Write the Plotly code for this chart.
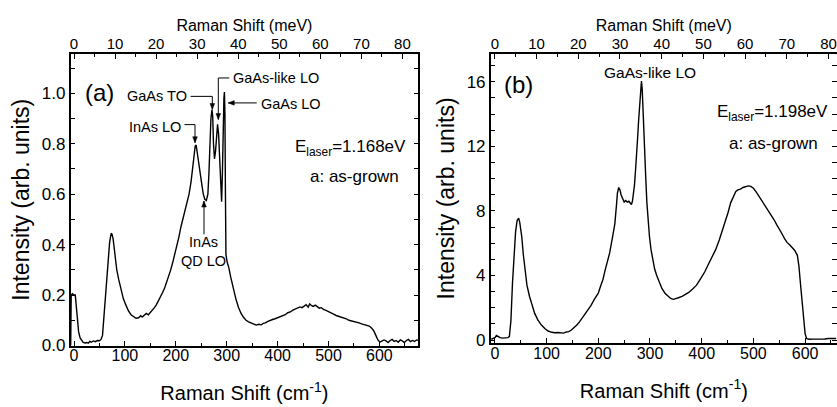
import plotly.graph_objects as go

# ---------------- data: panel (a), E_laser = 1.168 eV ----------------
shift_a = [-6.5, -5.5, -3, 0, 2.5, 5, 7, 9, 12, 15, 18, 22, 25, 28, 31, 34, 38, 42, 46, 50,
           53, 56, 58, 61, 64, 67, 70, 73, 75, 77, 80, 84, 88, 92, 97, 102, 107, 112, 117, 122,
           127, 131, 134, 138, 142, 146, 150, 154, 158, 162, 166, 170, 174, 178, 182, 186, 190,
           194, 198, 202, 206, 210, 214, 218, 222, 226, 230, 233, 236, 238, 240, 242, 245, 248,
           251, 254, 257, 260, 263, 265, 267, 269, 271, 272.5, 274, 276, 278, 280, 282, 284, 286,
           288, 290, 291.5, 293, 294.5, 295.5, 296.5, 297.5, 298.5, 301, 304, 308, 313, 318, 323,
           328, 333, 338, 343, 348, 353, 358, 363, 368, 372, 376, 380, 385, 390, 395, 400, 405,
           410, 415, 420, 425, 430, 435, 440, 444, 448, 452, 456, 460, 463, 467, 470, 474, 478,
           482, 486, 490, 495, 500, 505, 510, 515, 520, 525, 530, 535, 540, 545, 550, 555, 560,
           565, 570, 575, 580, 585, 589, 593, 597, 601, 605, 609, 613, 617, 621, 625, 629, 633,
           637, 641, 645, 649, 653, 657, 661, 665, 669, 673, 676]
intensity_a = [0.0, 0.20, 0.205, 0.20, 0.20, 0.145, 0.09, 0.055, 0.03, 0.02, 0.012, 0.01, 0.012,
               0.009, 0.016, 0.013, 0.018, 0.015, 0.02, 0.019, 0.024, 0.04, 0.09, 0.18, 0.27, 0.35,
               0.41, 0.445, 0.44, 0.42, 0.36, 0.30, 0.26, 0.22, 0.185, 0.16, 0.137, 0.122, 0.113,
               0.108, 0.11, 0.118, 0.113, 0.12, 0.127, 0.122, 0.13, 0.14, 0.15, 0.162, 0.177, 0.19,
               0.21, 0.228, 0.25, 0.28, 0.30, 0.33, 0.36, 0.39, 0.43, 0.47, 0.50, 0.535, 0.56, 0.60,
               0.65, 0.70, 0.76, 0.79, 0.795, 0.77, 0.73, 0.69, 0.64, 0.60, 0.58, 0.575, 0.60, 0.68,
               0.80, 0.90, 0.935, 0.91, 0.80, 0.74, 0.77, 0.84, 0.877, 0.84, 0.74, 0.63, 0.57, 0.68,
               0.88, 0.98, 1.005, 0.92, 0.60, 0.36, 0.33, 0.31, 0.27, 0.224, 0.185, 0.152, 0.128,
               0.112, 0.10, 0.094, 0.09, 0.085, 0.081, 0.084, 0.082, 0.088, 0.09, 0.095, 0.1, 0.103,
               0.106, 0.11, 0.112, 0.118, 0.122, 0.13, 0.133, 0.14, 0.145, 0.148, 0.153, 0.15, 0.158,
               0.162, 0.152, 0.165, 0.158, 0.155, 0.16, 0.152, 0.148, 0.15, 0.143, 0.139, 0.135,
               0.13, 0.124, 0.119, 0.116, 0.112, 0.108, 0.106, 0.1, 0.098, 0.095, 0.093, 0.09, 0.086,
               0.084, 0.08, 0.077, 0.068, 0.058, 0.04, 0.022, 0.013, 0.016, 0.022, 0.018, 0.012,
               0.02, 0.024, 0.016, 0.02, 0.013, 0.022, 0.018, 0.012, 0.02, 0.024, 0.015, 0.02,
               0.016, 0.022, 0.02]

# ---------------- data: panel (b), E_laser = 1.198 eV ----------------
shift_b = [-7, -3, 0, 3, 6, 10, 15, 20, 25, 28, 31, 34, 37, 40, 43, 46, 48, 50, 52, 55, 58, 62,
           67, 72, 77, 83, 90, 97, 103, 110, 116, 122, 128, 133, 138, 143, 148, 153, 158, 164,
           170, 175, 180, 186, 192, 197, 200, 204, 209, 213, 218, 222, 226, 229, 232, 235, 237,
           239.5, 242, 244, 247, 250, 253, 256, 259, 262, 264, 266, 268, 270, 272, 274, 276, 278,
           280, 282, 283.5, 285, 286.5, 288, 290, 292, 294, 296, 299, 302, 305, 309, 313, 318,
           323, 329, 335, 340, 345, 350, 355, 362, 368, 375, 382, 390, 398, 406, 413, 420, 427,
           434, 440, 446, 451, 456, 461, 466, 470, 475, 480, 485, 490, 495, 500, 505, 510, 515,
           520, 525, 530, 535, 540, 545, 550, 555, 560, 565, 570, 575, 580, 585, 588, 591, 594,
           597, 600, 603, 608, 615, 622, 630, 638, 645, 652, 660]
intensity_b = [0.05, 0.1, 0.15, 0.28, 0.2, 0.15, 0.12, 0.13, 0.15, 0.22, 1.2, 3.5, 5.3, 6.7, 7.4,
               7.55, 7.3, 6.9, 6.4, 5.3, 4.3, 3.4, 2.7, 2.1, 1.65, 1.25, 0.93, 0.7, 0.56, 0.48,
               0.45, 0.47, 0.45, 0.43, 0.5, 0.52, 0.62, 0.75, 0.92, 1.14, 1.4, 1.62, 1.86, 2.15,
               2.5, 2.75, 2.9, 3.3, 3.75, 4.3, 4.9, 5.4, 6.1, 6.6, 7.2, 8.3, 9.1, 9.45, 9.3, 9.0,
               8.7, 8.55, 8.65, 8.55, 8.6, 8.45, 8.4, 8.6, 9.0, 9.6, 10.5, 11.3, 12.5, 13.6, 14.6,
               15.6, 16.05, 15.5, 14.0, 12.5, 11.1, 9.9, 8.5, 7.4, 6.4, 5.6, 5.0, 4.4, 4.0, 3.55,
               3.2, 2.9, 2.7, 2.58, 2.52, 2.55, 2.62, 2.7, 2.8, 2.95, 3.15, 3.4, 3.8, 4.23, 4.7,
               5.15, 5.6, 6.2, 6.8, 7.3, 7.9, 8.5, 8.9, 9.2, 9.3, 9.35, 9.45, 9.52, 9.55, 9.52,
               9.4, 9.2, 8.95, 8.7, 8.45, 8.2, 8.0, 7.75, 7.45, 7.15, 6.9, 6.6, 6.3, 6.05, 5.9,
               5.75, 5.55, 5.25, 4.6, 3.5, 2.4, 1.2, 0.4, 0.08, 0.05, 0.06, 0.05, 0.08, 0.07, 0.1,
               0.09, 0.1]

CM_PER_MEV = 8.0655
xrange_a = [-6.9, 676.4]
xrange_b = [-8.1, 661.7]
yrange_a = [0, 1.156]
yrange_b = [-0.17, 17.72]

meV_ticks = [0, 10, 20, 30, 40, 50, 60, 70, 80]
cm_ticks = [0, 100, 200, 300, 400, 500, 600]
ticks_a = [0.0, 0.2, 0.4, 0.6, 0.8, 1.0]
ticks_a_text = ["0.0", "0.2", "0.4", "0.6", "0.8", "1.0"]
ticks_b = [0, 4, 8, 12, 16]

FONT = "Liberation Sans, Arial, Helvetica, sans-serif"
W, H = 837, 407

dom_a = [70.5 / W, 418.3 / W]
dom_b = [490.7 / W, 1.0]
ydom_a = [(H - 345.5) / H, (H - 54) / H]
ydom_b = [(H - 342.8) / H, (H - 54) / H]

fig = go.Figure()
fig.add_trace(go.Scatter(x=shift_a, y=intensity_a, mode="lines", xaxis="x", yaxis="y",
                         line=dict(color="black", width=1.4), showlegend=False, hoverinfo="skip"))
fig.add_trace(go.Scatter(x=shift_b, y=intensity_b, mode="lines", xaxis="x3", yaxis="y2",
                         line=dict(color="black", width=1.4), showlegend=False, hoverinfo="skip"))
# invisible helpers so the meV axes get drawn
fig.add_trace(go.Scatter(x=[v / CM_PER_MEV for v in xrange_a], y=[None, None], xaxis="x2", yaxis="y",
                         mode="lines", showlegend=False, hoverinfo="skip"))
fig.add_trace(go.Scatter(x=[v / CM_PER_MEV for v in xrange_b], y=[None, None], xaxis="x4", yaxis="y2",
                         mode="lines", showlegend=False, hoverinfo="skip"))

axis_common = dict(showline=True, linecolor="black", linewidth=1.5, ticks="inside",
                   ticklen=5, tickwidth=1.2, tickcolor="black", showgrid=False, zeroline=False,
                   automargin=False, tickfont=dict(family=FONT, size=16, color="black"))

def bottom_axis(dom, rng, anchor):
    return dict(axis_common, domain=dom, range=rng, anchor=anchor, tickmode="array",
                tickvals=cm_ticks, mirror=False, ticklabelstandoff=-5,
                minor=dict(dtick=50, tick0=0, ticks="inside", ticklen=3, tickwidth=1.2,
                           tickcolor="black", showgrid=False),
                title=dict(text="Raman Shift (cm<sup>-1</sup>)",
                           font=dict(family=FONT, size=20, color="black"), standoff=23))

def top_axis(rng, overl, anchor):
    return dict(axis_common, range=[v / CM_PER_MEV for v in rng], overlaying=overl, side="top",
                anchor=anchor, tickmode="array", tickvals=meV_ticks, ticklabelstandoff=-3,
                tickfont=dict(family=FONT, size=15, color="black"),
                minor=dict(dtick=5, tick0=0, ticks="inside", ticklen=3, tickwidth=1.2,
                           tickcolor="black", showgrid=False),
                title=dict(text="Raman Shift (meV)", font=dict(family=FONT, size=16, color="black"),
                           standoff=0))

fig.update_layout(
    template="none",
    width=W, height=H, margin=dict(l=0, r=0, t=0, b=0, autoexpand=False),
    paper_bgcolor="white", plot_bgcolor="white", showlegend=False,
    xaxis=bottom_axis(dom_a, xrange_a, "y"),
    xaxis2=top_axis(xrange_a, "x", "y"),
    xaxis3=bottom_axis(dom_b, xrange_b, "y2"),
    xaxis4=top_axis(xrange_b, "x3", "y2"),
    yaxis=dict(axis_common, domain=ydom_a, range=yrange_a, anchor="x", mirror="allticks",
               tickmode="array", tickvals=ticks_a, ticktext=ticks_a_text,
               tickfont=dict(family=FONT, size=17, color="black"),
               minor=dict(dtick=0.1, tick0=0, ticks="inside", ticklen=3, tickwidth=1.2,
                          tickcolor="black", showgrid=False),
               title=dict(text="Intensity (arb. units)", font=dict(family=FONT, size=23, color="black"),
                          standoff=6)),
    yaxis2=dict(axis_common, domain=ydom_b, range=yrange_b, anchor="x3", mirror="allticks",
                tickmode="array", tickvals=ticks_b,
                tickfont=dict(family=FONT, size=17, color="black"),
                minor=dict(dtick=1, tick0=0, ticks="inside", ticklen=3, tickwidth=1.2,
                           tickcolor="black", showgrid=False),
                title=dict(text="Intensity (arb. units)", font=dict(family=FONT, size=23, color="black"),
                           standoff=6)),
)

# pixel scales of panel (a) used for arrowhead sizes
px_per_x_a = (dom_a[1] - dom_a[0]) * W / (xrange_a[1] - xrange_a[0])
px_per_y_a = (ydom_a[1] - ydom_a[0]) * H / (yrange_a[1] - yrange_a[0])


def txt(x, y, s, size, xref="x", yref="y", xanchor="center", align="center"):
    fig.add_annotation(x=x, y=y, xref=xref, yref=yref, text=s, showarrow=False,
                       xanchor=xanchor, yanchor="middle", align=align,
                       font=dict(family=FONT, size=size, color="black"))


def seg(x0, y0, x1, y1):
    fig.add_shape(type="line", x0=x0, y0=y0, x1=x1, y1=y1, xref="x", yref="y",
                  line=dict(color="black", width=1))


def arrow(xt, yt, xs, ys, head_len=6.0, head_half=2.3):
    """line from (xs, ys) to the tip (xt, yt) with a filled head, in panel (a) data units"""
    seg(xs, ys, xt, yt)
    dxp = (xt - xs) * px_per_x_a
    dyp = (yt - ys) * px_per_y_a
    n = (dxp ** 2 + dyp ** 2) ** 0.5
    ux, uy = dxp / n, dyp / n
    bx, by = -ux * head_len, -uy * head_len
    qx, qy = -uy * head_half, ux * head_half
    p1 = (xt + (bx + qx) / px_per_x_a, yt + (by + qy) / px_per_y_a)
    p2 = (xt + (bx - qx) / px_per_x_a, yt + (by - qy) / px_per_y_a)
    path = f"M {xt} {yt} L {p1[0]} {p1[1]} L {p2[0]} {p2[1]} Z"
    fig.add_shape(type="path", path=path, xref="x", yref="y",
                  fillcolor="black", line=dict(color="black", width=0.5))


# panel (a) labels
txt(51, 1.003, "(a)", 24)
txt(226, 0.988, "GaAs TO", 14.5, xanchor="right")
seg(229, 0.988, 271.7, 0.988)
arrow(271.7, 0.936, 271.7, 0.988)
txt(215, 0.866, "InAs LO", 14.5, xanchor="right")
seg(217, 0.876, 237.7, 0.876)
arrow(237.7, 0.804, 237.7, 0.876)
txt(309, 1.061, "GaAs-like LO", 14.5, xanchor="left")
seg(305, 1.061, 283.5, 1.061)
arrow(283.5, 0.896, 283.5, 1.061)
txt(364, 0.958, "GaAs LO", 14.5, xanchor="left")
arrow(303, 0.962, 359, 0.962)
txt(254, 0.372, "InAs<br>QD LO", 14.5)
arrow(255.4, 0.573, 255.4, 0.441)
txt(656, 0.785, "E<sub>laser</sub>=1.168eV", 17, xanchor="right")
txt(552, 0.671, "a: as-grown", 17)

# panel (b) labels
txt(46.6, 15.8, "(b)", 24, xref="x3", yref="y2")
txt(300, 16.55, "GaAs-like LO", 15.5, xref="x3", yref="y2")
txt(648, 14.04, "E<sub>laser</sub>=1.198eV", 17, xref="x3", yref="y2", xanchor="right")
txt(538, 12.18, "a: as-grown", 17, xref="x3", yref="y2")

# the page's default 8px body margin would shift the 837x407 figure out of the window
fig.write_html("out.html", config={"displayModeBar": False},
               post_script="document.body.style.margin='0';")
